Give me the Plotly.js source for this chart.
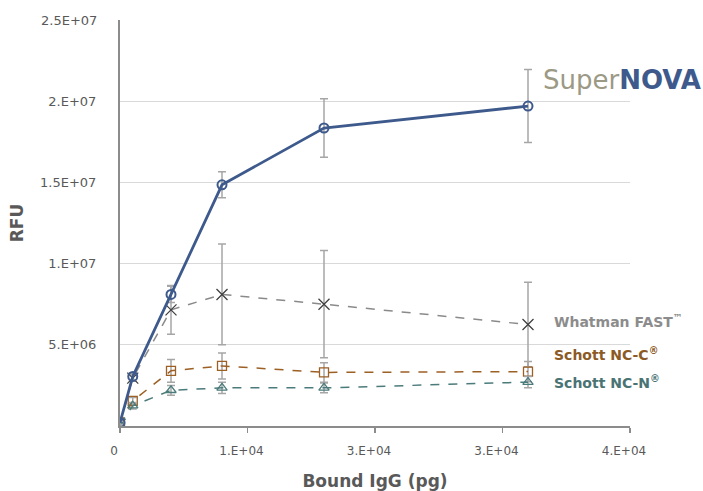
<!DOCTYPE html>
<html>
<head>
<meta charset="utf-8">
<script src="https://cdn.plot.ly/plotly-3.0.1.min.js"></script>
<style>html,body{margin:0;padding:0;background:#fff;}#chart{width:703px;height:491px;}</style>
</head>
<body>
<div id="chart"></div>
<script>
// ---- data ----
const boundIgG = [0, 1000, 4000, 8000, 16000, 32000];

const superNova    = [0.2e6, 3.05e6, 8.1e6, 14.85e6, 18.35e6, 19.7e6];
const superNovaErr = [0.1e6, 0.2e6, 0.5e6, 0.8e6, 1.8e6, 2.25e6];

const whatman      = [0.1e6, 2.95e6, 7.15e6, 8.1e6, 7.5e6, 6.25e6];
const whatmanErr   = [0.1e6, 0.2e6, 1.5e6, 3.1e6, 3.3e6, 2.6e6];

const schottC      = [0.05e6, 1.55e6, 3.4e6, 3.7e6, 3.3e6, 3.35e6];
const schottCErr   = [0.05e6, 0.2e6, 0.7e6, 0.8e6, 0.6e6, 0.62e6];

const schottN      = [0.05e6, 1.25e6, 2.2e6, 2.35e6, 2.35e6, 2.7e6];
const schottNErr   = [0.05e6, 0.2e6, 0.3e6, 0.35e6, 0.3e6, 0.35e6];

const xTickVals = [0, 10000, 20000, 30000, 40000];
const xTickText = ["0", "1.E+04", "3.E+04", "3.E+04", "4.E+04"];
const yTickVals = [5e6, 1e7, 1.5e7, 2e7];
const yTickText = ["5.E+06", "1.E+07", "1.5E+07", "2.E+07"];
const yTopVal = [2.5e7];
const yTopText = ["2.5E+07"];

// ---- styling ----
const errStyle = (arr) => ({type: 'data', array: arr, visible: true, color: '#a6a6a6', thickness: 1.5, width: 4});
const FONT = 'DejaVu Sans, Verdana, sans-serif';

const traces = [
  {x: boundIgG, y: whatman, error_y: errStyle(whatmanErr), mode: 'lines+markers', name: 'Whatman FAST™',
   line: {color: '#8a8a8a', width: 1.5, dash: 'dash'},
   marker: {symbol: 'x-thin-open', size: 11, color: '#404040', line: {width: 1.3, color: '#404040'}}},
  {x: boundIgG, y: schottC, error_y: errStyle(schottCErr), mode: 'lines+markers', name: 'Schott NC-C®',
   line: {color: '#9c5f24', width: 1.5, dash: 'dash'},
   marker: {symbol: 'square-open', size: 9, color: '#9c5f24', line: {width: 1.3}}},
  {x: boundIgG, y: schottN, error_y: errStyle(schottNErr), mode: 'lines+markers', name: 'Schott NC-N®',
   line: {color: '#4b7b7b', width: 1.5, dash: 'dash'},
   marker: {symbol: 'triangle-up-open', size: 9, color: '#4b7b7b', line: {width: 1.3}}},
  {x: boundIgG, y: superNova, error_y: errStyle(superNovaErr), mode: 'lines+markers', name: 'SuperNOVA',
   line: {color: '#3e5a8c', width: 2.8},
   marker: {symbol: 'circle-open', size: 9, color: '#3e5a8c', line: {width: 2}}},
  // helper trace for the top y label (no grid line)
  {x: [0], y: [2.5e7], yaxis: 'y2', mode: 'markers', marker: {opacity: 0}, hoverinfo: 'skip', showlegend: false}
];

const annotations = [];
// series labels
annotations.push({xref: 'paper', yref: 'paper', x: 1.143, y: 0.853, xanchor: 'right', yanchor: 'middle', showarrow: false,
  text: '<span style="color:#9c9985">Super</span><b><span style="color:#3e5a8c">NOVA</span></b>',
  font: {family: FONT, size: 26}});
annotations.push({xref: 'paper', yref: 'paper', x: 0.847, y: 0.259, xanchor: 'left', yanchor: 'middle', showarrow: false,
  text: '<b>Whatman FAST<sup>™</sup></b>', font: {family: FONT, size: 14, color: '#8c8c8c'}});
annotations.push({xref: 'paper', yref: 'paper', x: 0.847, y: 0.177, xanchor: 'left', yanchor: 'middle', showarrow: false,
  text: '<b>Schott NC-C<sup>®</sup></b>', font: {family: FONT, size: 14, color: '#8c5a24'}});
annotations.push({xref: 'paper', yref: 'paper', x: 0.847, y: 0.108, xanchor: 'left', yanchor: 'middle', showarrow: false,
  text: '<b>Schott NC-N<sup>®</sup></b>', font: {family: FONT, size: 14, color: '#4a7373'}});

const layout = {
  width: 703, height: 491,
  margin: {l: 120, r: 73, t: 20, b: 65, pad: 0},
  paper_bgcolor: '#ffffff', plot_bgcolor: '#ffffff',
  showlegend: false,
  font: {family: FONT, color: '#595959'},
  xaxis: {
    range: [0, 40000], tickvals: xTickVals, ticktext: xTickText,
    tickfont: {family: FONT, size: 12, color: '#595959'},
    ticklabelshift: -6, ticklabelstandoff: 8,
    ticks: 'outside', ticklen: 5, tickcolor: '#8c8c8c', tickwidth: 1.5,
    showgrid: false, zeroline: false, showline: true, linecolor: '#8c8c8c', linewidth: 2,
    title: {text: 'Bound IgG (pg)', font: {family: FONT, size: 17, color: '#595959', weight: 'bold'}, standoff: 20}
  },
  yaxis: {
    range: [0, 2.5e7], tickvals: yTickVals, ticktext: yTickText,
    ticks: 'outside', ticklen: 19, tickcolor: 'rgba(0,0,0,0)',
    tickfont: {family: FONT, size: 13, color: '#595959'},
    showgrid: true, gridcolor: '#d9d9d9', gridwidth: 1.2, zeroline: false,
    showline: true, linecolor: '#8c8c8c', linewidth: 2,
    title: {text: 'RFU', font: {family: FONT, size: 17, color: '#595959', weight: 'bold'}, standoff: 12}
  },
  yaxis2: {
    overlaying: 'y', side: 'left', range: [0, 2.5e7], tickvals: yTopVal, ticktext: yTopText,
    ticks: 'outside', ticklen: 19, tickcolor: 'rgba(0,0,0,0)',
    tickfont: {family: FONT, size: 13, color: '#595959'},
    showgrid: false, zeroline: false, showline: false
  },
  annotations: annotations
};

Plotly.newPlot('chart', traces, layout, {displayModeBar: false, staticPlot: true});
</script>
</body>
</html>
